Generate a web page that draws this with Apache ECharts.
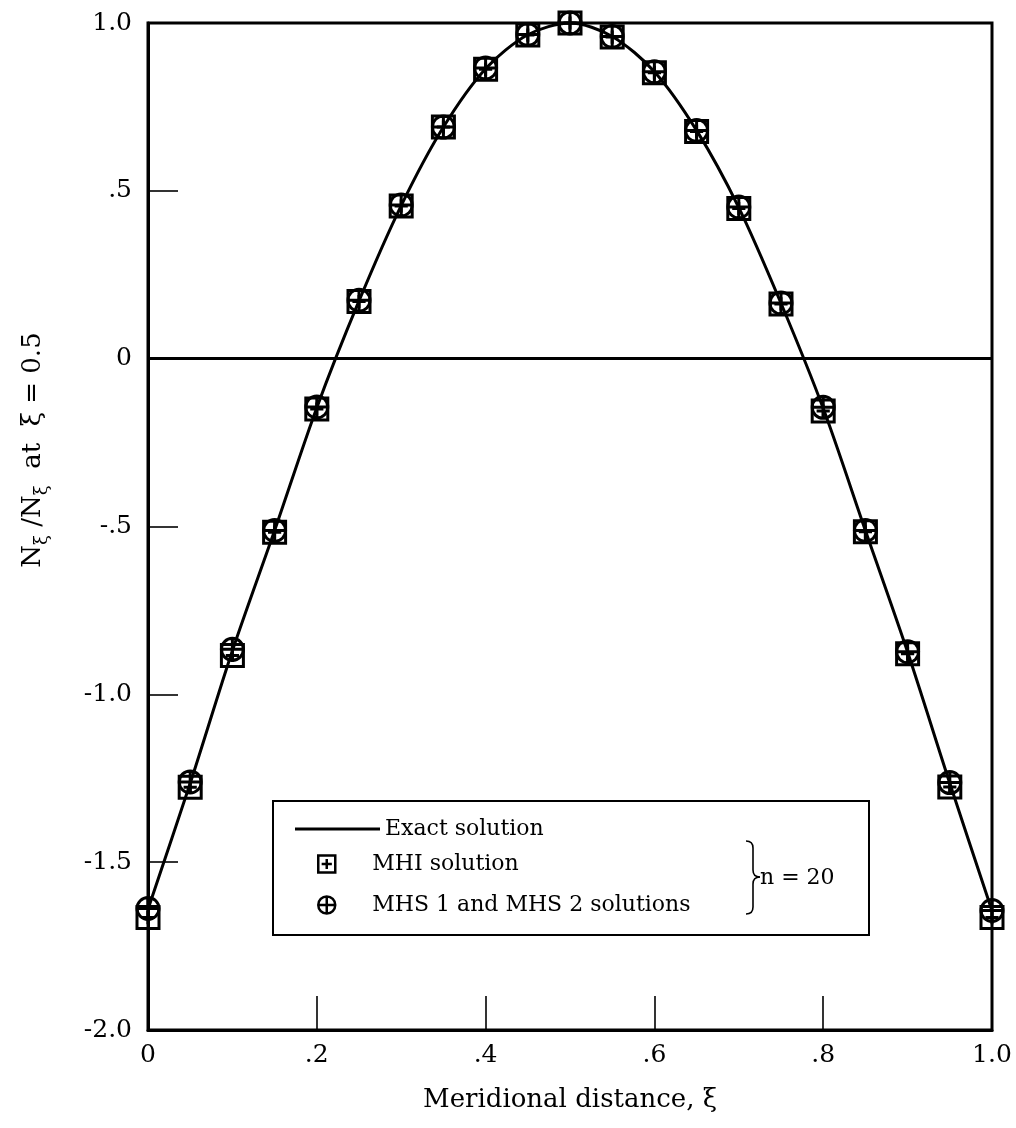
<!DOCTYPE html>
<html>
<head>
<meta charset="utf-8">
<script src="https://cdn.jsdelivr.net/npm/echarts@6/dist/echarts.min.js"></script>
<style>
  html, body { margin: 0; padding: 0; background: #fff; }
  #chart { width: 1016px; height: 1128px; }
</style>
</head>
<body>
<div id="chart"></div>
<script>
// meridional distance, xi
var xi = [0, 0.05, 0.1, 0.15, 0.2, 0.25, 0.3, 0.35, 0.4, 0.45, 0.5,
          0.55, 0.6, 0.65, 0.7, 0.75, 0.8, 0.85, 0.9, 0.95, 1.0];

var exactY = [-1.64, -1.265, -0.87, -0.512, -0.146, 0.172, 0.456, 0.69, 0.864, 0.965, 1.0,
              0.96, 0.855, 0.68, 0.45, 0.165, -0.148, -0.512, -0.874, -1.265, -1.645];
var mhiY   = [-1.665, -1.277, -0.884, -0.517, -0.15, 0.17, 0.455, 0.69, 0.862, 0.964, 1.0,
              0.958, 0.852, 0.677, 0.447, 0.163, -0.156, -0.516, -0.879, -1.276, -1.665];
var mhsY   = [-1.638, -1.261, -0.866, -0.512, -0.144, 0.174, 0.458, 0.69, 0.866, 0.966, 1.0,
              0.96, 0.855, 0.68, 0.452, 0.166, -0.145, -0.512, -0.873, -1.263, -1.644];

var xTickLabels = ['0', '.2', '.4', '.6', '.8', '1.0'];
var yTickLabels = ['-2.0', '-1.5', '-1.0', '-.5', '0', '.5', '1.0'];

var seriesNames = ['Exact solution', 'MHI solution', 'MHS 1 and MHS 2 solutions'];

var squarePlus = 'path://M0,0 L20,0 L20,20 L0,20 Z M10,4 L10,16 M4,10 L16,10';
var circlePlus = 'path://M0,10 A10,10 0 1,1 20,10 A10,10 0 1,1 0,10 Z M10,1 L10,19 M1,10 L19,10';

var serif = 'DejaVu Serif';
var ink = '#000';

function pairs(ys) {
	return xi.map(function (x, i) { return [x, ys[i]]; });
}

function tickLabel(list, min, step) {
	return function (v) {
		return list[Math.round((v - min) / step)];
	};
}

// thin brace "}" beside the two marker entries
function brace(x, top, mid, bottom, depth) {
	var s = { stroke: ink, lineWidth: 1.6, fill: 'none' };
	var r = 7;
	return [
		{ type: 'bezierCurve', z: 10, style: s,
			shape: { x1: x - depth, y1: top, cpx1: x - 2, cpy1: top, cpx2: x, cpy2: top + 3, x2: x, y2: top + r } },
		{ type: 'line', z: 10, style: s, shape: { x1: x, y1: top + r, x2: x, y2: mid - r } },
		{ type: 'bezierCurve', z: 10, style: s,
			shape: { x1: x, y1: mid - r, cpx1: x, cpy1: mid - 2, cpx2: x + 3, cpy2: mid, x2: x + depth, y2: mid } },
		{ type: 'bezierCurve', z: 10, style: s,
			shape: { x1: x + depth, y1: mid, cpx1: x + 3, cpy1: mid, cpx2: x, cpy2: mid + 2, x2: x, y2: mid + r } },
		{ type: 'line', z: 10, style: s, shape: { x1: x, y1: mid + r, x2: x, y2: bottom - r } },
		{ type: 'bezierCurve', z: 10, style: s,
			shape: { x1: x, y1: bottom - r, cpx1: x, cpy1: bottom - 3, cpx2: x - 2, cpy2: bottom, x2: x - depth, y2: bottom } }
	];
}

var chart = echarts.init(document.getElementById('chart'), null, { renderer: 'canvas' });

chart.setOption({
	backgroundColor: '#fff',
	animation: false,
	grid: {
		left: 148, right: 24, top: 23, bottom: 98,
		show: true, borderColor: ink, borderWidth: 3
	},
	xAxis: {
		type: 'value', min: 0, max: 1, interval: 0.2,
		name: 'Meridional distance, ξ',
		nameLocation: 'middle', nameGap: 57,
		nameTextStyle: { fontFamily: serif, fontSize: 26, color: ink },
		axisLine: { onZero: false, lineStyle: { color: ink, width: 3 } },
		axisTick: { inside: true, length: 34, lineStyle: { color: ink, width: 1.6 } },
		axisLabel: { formatter: tickLabel(xTickLabels, 0, 0.2), margin: 13,
			fontFamily: serif, fontSize: 25, color: ink },
		splitLine: { show: false }
	},
	yAxis: {
		type: 'value', min: -2, max: 1, interval: 0.5,
		axisLine: { show: true, onZero: false, lineStyle: { color: ink, width: 3 } },
		axisTick: { show: true, inside: true, length: 30, lineStyle: { color: ink, width: 1.6 } },
		axisLabel: { formatter: tickLabel(yTickLabels, -2, 0.5), margin: 16,
			fontFamily: serif, fontSize: 25, color: ink },
		splitLine: { show: false }
	},
	legend: [
		{
			data: [{ name: seriesNames[0], icon: 'rect' }], selectedMode: false,
			left: 290, top: 813, itemWidth: 85, itemHeight: 3,
			itemStyle: { color: ink, borderWidth: 0 },
			textStyle: { fontFamily: serif, fontSize: 22, color: ink }
		},
		{
			data: [seriesNames[1]], selectedMode: false,
			left: 312, top: 848, itemWidth: 17, itemHeight: 17,
			itemStyle: { borderColor: ink, borderWidth: 2.5, opacity: 1 },
			textStyle: { fontFamily: serif, fontSize: 22, color: ink, padding: [0, 0, 0, 32] }
		},
		{
			data: [seriesNames[2]], selectedMode: false,
			left: 312, top: 889, itemWidth: 17, itemHeight: 17,
			itemStyle: { borderColor: ink, borderWidth: 2.5, opacity: 1 },
			textStyle: { fontFamily: serif, fontSize: 22, color: ink, padding: [0, 0, 0, 32] }
		}
	],
	graphic: [
		{
			type: 'rect', z: 1,
			shape: { x: 273, y: 801, width: 596, height: 134 },
			style: { fill: 'none', stroke: ink, lineWidth: 2 }
		},
		{
			type: 'text', x: 760, y: 878, z: 10,
			style: { text: 'n = 20', font: '22px "DejaVu Serif"', fill: ink,
				align: 'left', verticalAlign: 'middle' }
		},
		{
			type: 'text', x: 33, y: 450, rotation: Math.PI / 2, z: 10,
			style: {
				text: '{a|N}{s|ξ}{a| /N}{s|ξ}{a|  at  ξ = 0.5}',
				align: 'center', verticalAlign: 'middle',
				rich: {
					a: { fontFamily: serif, fontSize: 26, color: ink, lineHeight: 36, verticalAlign: 'middle' },
					s: { fontFamily: serif, fontSize: 18, color: ink, lineHeight: 18, verticalAlign: 'bottom' }
				}
			}
		}
	].concat(brace(753, 841, 877, 914, 7)),
	series: [
		{
			name: seriesNames[0], type: 'line',
			data: pairs(exactY), smooth: 0.3,
			symbol: 'none', z: 2,
			lineStyle: { color: ink, width: 3 },
			itemStyle: { color: ink },
			markLine: {
				silent: true, symbol: 'none', label: { show: false },
				lineStyle: { color: ink, width: 3, type: 'solid' },
				data: [{ yAxis: 0 }]
			}
		},
		{
			name: seriesNames[1], type: 'scatter',
			data: pairs(mhiY), symbol: squarePlus, symbolSize: 22, z: 3,
			itemStyle: { color: 'rgba(0,0,0,0)', borderColor: ink, borderWidth: 3, opacity: 1 }
		},
		{
			name: seriesNames[2], type: 'scatter',
			data: pairs(mhsY), symbol: circlePlus, symbolSize: 22, z: 4,
			itemStyle: { color: 'rgba(0,0,0,0)', borderColor: ink, borderWidth: 3, opacity: 1 }
		}
	]
});
</script>
</body>
</html>
